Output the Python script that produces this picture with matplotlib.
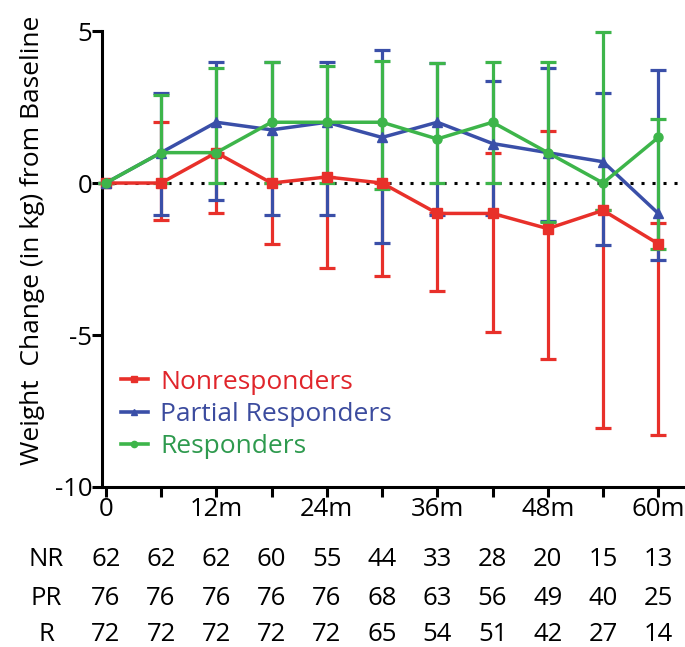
import matplotlib
matplotlib.use("Agg")
import matplotlib.pyplot as plt
import matplotlib.transforms as mtransforms
from matplotlib.lines import Line2D
import numpy as np

plt.rcParams["font.family"] = ["Open Sans", "DejaVu Sans"]

# 데이터
months = [0, 6, 12, 18, 24, 30, 36, 42, 48, 54, 60]

nr_mean = [0, 0, 1.0, 0, 0.2, 0, -1.0, -1.0, -1.5, -0.9, -2.0]
nr_upper = [0, 2.0, 1.0, 0, 0.2, 0, -1.0, 1.0, 1.7, -0.9, -1.3]
nr_lower = [0, -1.2, -1.0, -2.0, -2.8, -3.05, -3.55, -4.9, -5.8, -8.05, -8.3]

pr_mean = [0, 1.0, 2.0, 1.75, 2.0, 1.5, 2.0, 1.3, 1.0, 0.7, -1.0]
pr_upper = [0, 2.97, 3.98, 3.98, 3.98, 4.37, 3.95, 3.35, 3.78, 2.96, 3.72]
pr_lower = [0, -1.04, -0.55, -1.04, -1.04, -1.98, -1.05, -1.05, -1.25, -2.04, -2.53]

r_mean = [0, 1.0, 1.0, 2.0, 2.0, 2.0, 1.45, 2.0, 1.0, 0, 1.5]
r_upper = [0, 2.88, 3.8, 3.98, 3.85, 4.0, 3.95, 3.98, 3.98, 4.97, 2.1]
r_lower = [0, 0, 0, 0, 0, -0.2, 0, 0, -1.27, -0.9, -2.17]

xtick_labels = ["0", "", "12m", "", "24m", "", "36m", "", "48m", "", "60m"]

row_names = ["NR", "PR", "R"]
nr_counts = [62, 62, 62, 60, 55, 44, 33, 28, 20, 15, 13]
pr_counts = [76, 76, 76, 76, 76, 68, 63, 56, 49, 40, 25]
r_counts = [72, 72, 72, 72, 72, 65, 54, 51, 42, 27, 14]

legend_names = ["Nonresponders", "Partial Responders", "Responders"]
colors = ["#E8302A", "#3A4FA8", "#3DB54A"]
text_colors = ["#E0252B", "#3B4B9E", "#2E9A4E"]
markers = ["s", "^", "o"]


def errs(mean, lower, upper):
    m = np.array(mean)
    return [m - np.array(lower), np.array(upper) - m]


fig = plt.figure(figsize=(6.85, 6.47), dpi=100)
ax = fig.add_axes([0.149, 0.2473, 0.851, 0.7047])

# 기준선 (점선)
ax.axhline(0, color="black", linestyle=(0, (1, 2.6)), linewidth=2.2, zorder=1)

series = [
    (nr_mean, nr_lower, nr_upper),
    (pr_mean, pr_lower, pr_upper),
    (r_mean, r_lower, r_upper),
]
for (mean, lo, hi), c, mk in zip(series, colors, markers):
    ax.errorbar(
        months, mean, yerr=errs(mean, lo, hi),
        color=c, marker=mk, markersize=6.5, linewidth=2.5,
        elinewidth=2.3, capsize=6, capthick=2.3, clip_on=False, zorder=3,
    )

ax.set_xlim(-0.4, 62.9)
ax.set_ylim(-10, 5)
ax.set_xticks(months)
ax.set_xticklabels(xtick_labels)
ax.set_yticks([5, 0, -5, -10])
ax.set_yticklabels(["5", "0", "-5", "-10"])
ax.spines["top"].set_visible(False)
ax.spines["right"].set_visible(False)
ax.spines["left"].set_linewidth(2.2)
ax.spines["bottom"].set_linewidth(2.2)
ax.tick_params(axis="both", direction="out", length=7, width=2.2,
               labelsize=18.5, pad=0)
ax.set_ylabel("Weight  Change (in kg) from Baseline", fontsize=19)
ax.yaxis.set_label_coords(-0.098, 0.54)

# 범례 (작은 마커 + 선)
handles = [Line2D([], [], color=c, marker=mk, markersize=4.5, linewidth=2.6)
           for c, mk in zip(colors, markers)]
leg = ax.legend(handles=handles, labels=legend_names, loc="lower left",
                bbox_to_anchor=(0.0, 0.02), frameon=False, fontsize=19,
                handlelength=1.05, handletextpad=0.45, labelspacing=0.28,
                borderaxespad=0.3)
for t, c in zip(leg.get_texts(), text_colors):
    t.set_color(c)

# 하단 환자 수 표
trans = mtransforms.blended_transform_factory(ax.transData, fig.transFigure)
row_y = [0.136, 0.075, 0.019]
for name, counts, yy in zip(row_names, [nr_counts, pr_counts, r_counts], row_y):
    fig.text(0.068, yy, name, ha="center", va="center", fontsize=18.5)
    for m, n in zip(months, counts):
        ax.text(m, yy, str(n), transform=trans, ha="center", va="center",
                fontsize=18.5, clip_on=False)

fig.savefig("out.png", dpi=100)
